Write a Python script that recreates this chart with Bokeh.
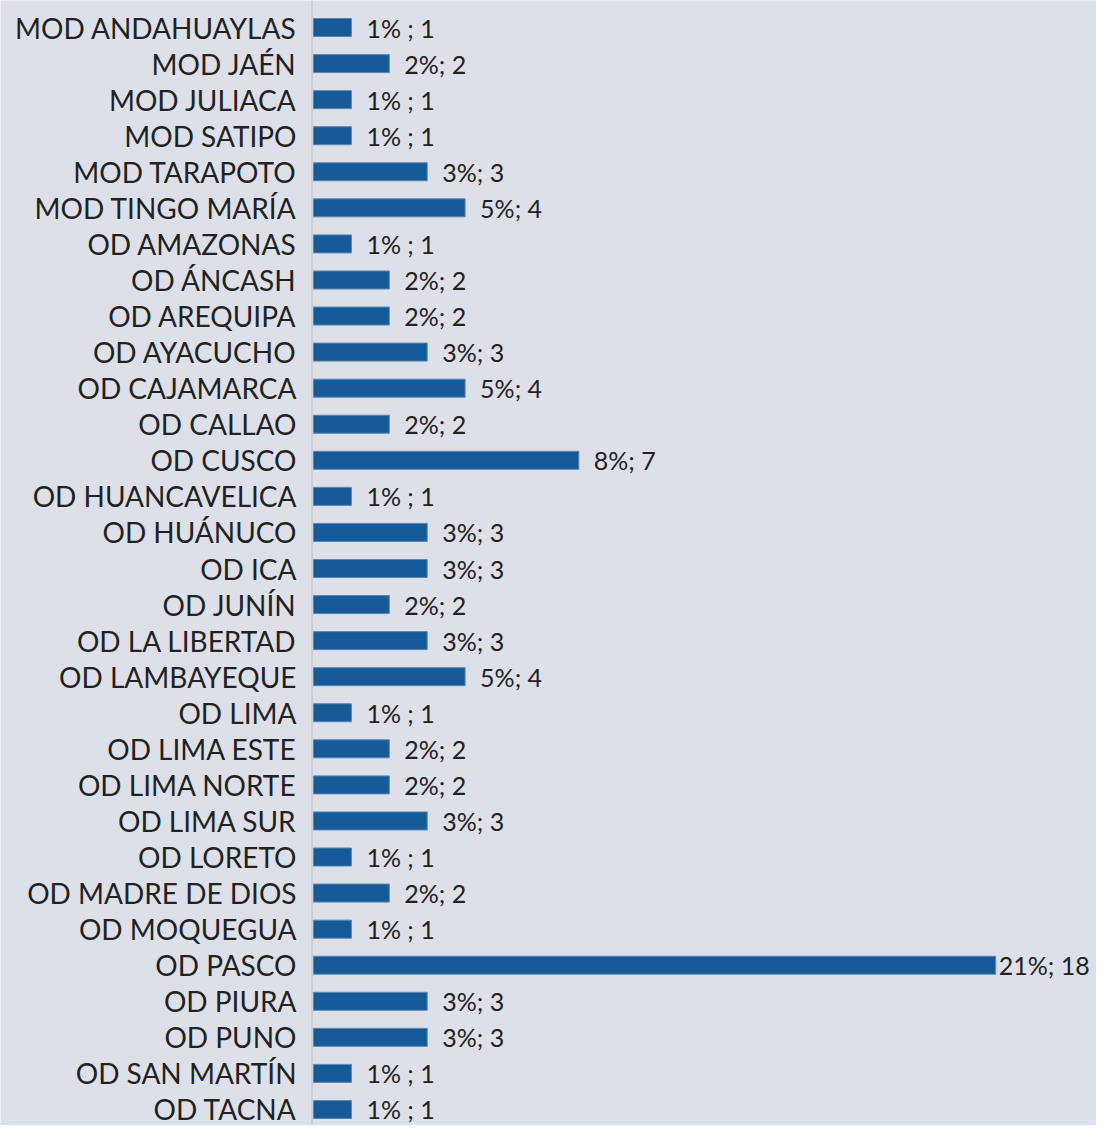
from bokeh.plotting import figure
from bokeh.models import ColumnDataSource, Range1d, Span
from bokeh.core.properties import value
from bokeh.embed import file_html
from bokeh.resources import INLINE

categories = [
    "MOD ANDAHUAYLAS", "MOD JAÉN", "MOD JULIACA", "MOD SATIPO", "MOD TARAPOTO",
    "MOD TINGO MARÍA", "OD AMAZONAS", "OD ÁNCASH", "OD AREQUIPA", "OD AYACUCHO",
    "OD CAJAMARCA", "OD CALLAO", "OD CUSCO", "OD HUANCAVELICA", "OD HUÁNUCO",
    "OD ICA", "OD JUNÍN", "OD LA LIBERTAD", "OD LAMBAYEQUE", "OD LIMA",
    "OD LIMA ESTE", "OD LIMA NORTE", "OD LIMA SUR", "OD LORETO", "OD MADRE DE DIOS",
    "OD MOQUEGUA", "OD PASCO", "OD PIURA", "OD PUNO", "OD SAN MARTÍN", "OD TACNA",
]
counts = [1, 2, 1, 1, 3, 4, 1, 2, 2, 3, 4, 2, 7, 1, 3, 3, 2, 3, 4, 1,
          2, 2, 3, 1, 2, 1, 18, 3, 3, 1, 1]
labels = [
    "1% ; 1", "2%; 2", "1% ; 1", "1% ; 1", "3%; 3", "5%; 4", "1% ; 1", "2%; 2",
    "2%; 2", "3%; 3", "5%; 4", "2%; 2", "8%; 7", "1% ; 1", "3%; 3", "3%; 3",
    "2%; 2", "3%; 3", "5%; 4", "1% ; 1", "2%; 2", "2%; 2", "3%; 3", "1% ; 1",
    "2%; 2", "1% ; 1", "21%; 18", "3%; 3", "3%; 3", "1% ; 1", "1% ; 1",
]

n = len(categories)
ys = [n - i for i in range(n)]
cmax = max(counts)
offsets = [3 if c == cmax else 15 for c in counts]
zeros = [0] * n

src = ColumnDataSource(dict(y=ys, v=counts, lab=labels, off=offsets,
                            cat=categories, z=zeros))

BG = "#dde0e9"
FONT = "Lato"

p = figure(width=1096, height=1125, output_backend="svg", toolbar_location=None,
           x_range=Range1d(-8.259, 20.66), y_range=Range1d(0.556, 31.749),
           min_border_left=0, min_border_right=0, min_border_top=0,
           min_border_bottom=0)
p.background_fill_color = BG
p.border_fill_color = BG
p.outline_line_color = None
p.grid.visible = False
p.axis.visible = False

p.add_layout(Span(location=-0.04, dimension="height", line_color="#cbced6",
                  line_width=2))

p.hbar(y="y", right="v", left=0, height=0.5, source=src,
       fill_color="#165b98", line_color="#5a86b5", line_width=1)
p.text(x="v", y="y", text="lab", x_offset="off", source=src,
       text_font=value(FONT), text_font_size="25px", text_color="#222222",
       text_baseline="middle", text_align="left")
p.text(x="z", y="y", text="cat", x_offset=-17, source=src,
       text_font=value(FONT), text_font_size="28px", text_color="#222222",
       text_baseline="middle", text_align="right")

open("out.html", "w").write(file_html(p, INLINE))
